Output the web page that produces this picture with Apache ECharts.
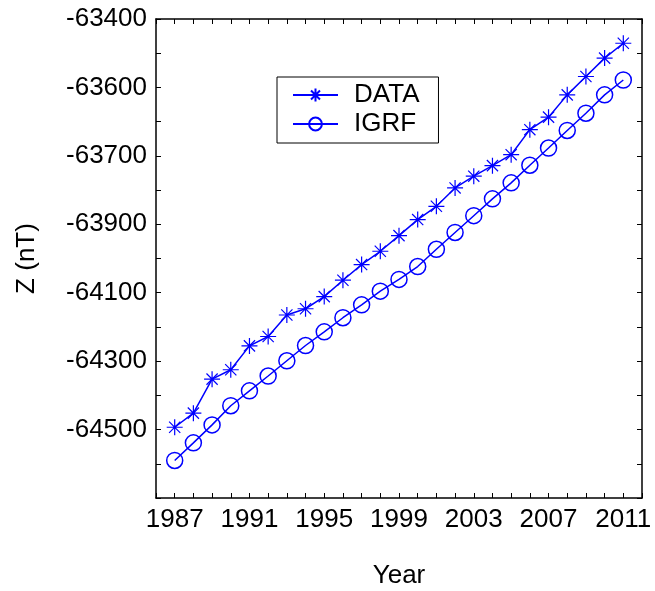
<!DOCTYPE html>
<html>
<head>
<meta charset="utf-8">
<script src="https://cdn.jsdelivr.net/npm/echarts@6/dist/echarts.min.js"></script>
<style>
  html, body { margin: 0; padding: 0; background: #fff; }
  #chart { width: 655px; height: 591px; }
</style>
</head>
<body>
<div id="chart"></div>
<script>
const years = [1987, 1988, 1989, 1990, 1991, 1992, 1993, 1994, 1995, 1996, 1997, 1998, 1999,
  2000, 2001, 2002, 2003, 2004, 2005, 2006, 2007, 2008, 2009, 2010, 2011];

const dataZ = [-64444, -64408, -64321, -64297, -64236, -64212, -64157, -64141, -64110, -64068,
  -64028, -63994, -63954, -63913, -63879, -63832, -63802, -63775, -63747, -63683,
  -63651, -63594, -63547, -63500, -63462];

const igrfZ = [-64529, -64484, -64438, -64389, -64351, -64313, -64274, -64235, -64200, -64164,
  -64131, -64096, -64066, -64033, -63989, -63946, -63903, -63860, -63819, -63774,
  -63730, -63685, -63641, -63594, -63556];

// tick labels as printed on the original figure
const yTickValues = [-63400, -63575, -63750, -63925, -64100, -64275, -64450];
const yTickLabels = ['-63400', '-63600', '-63700', '-63900', '-64100', '-64300', '-64500'];
const yMinorTicks = [-63400, -63487.5, -63575, -63662.5, -63750, -63837.5, -63925, -64012.5,
  -64100, -64187.5, -64275, -64362.5, -64450, -64537.5, -64625];
const xTickLabels = [1987, 1991, 1995, 1999, 2003, 2007, 2011];

const BLUE = '#0000ff';
const FONT = 'Liberation Sans';
const STAR = 'path://M0,-10L0,10M-10,0L10,0M-7,-7L7,7M-7,7L7,-7';

const chart = echarts.init(document.getElementById('chart'));

const axisLine = { show: true, onZero: false, lineStyle: { color: '#000', width: 1.5 } };
const tick = { show: true, inside: true, length: 5, lineStyle: { color: '#000', width: 1 } };

chart.setOption({
  animation: false,
  backgroundColor: '#fff',
  textStyle: { fontFamily: FONT },
  grid: { left: 156, right: 13, top: 19, bottom: 93, outerBoundsMode: 'none', containLabel: false },
  legend: {
    orient: 'vertical',
    left: 277,
    top: 77,
    padding: [5, 19, 6, 15],
    itemGap: 3,
    itemWidth: 45,
    itemHeight: 16,
    borderColor: '#000',
    borderWidth: 1,
    backgroundColor: '#fff',
    textStyle: { fontFamily: FONT, fontSize: 26, color: '#000', lineHeight: 26, padding: [0, 0, 0, 11] },
    data: ['DATA', 'IGRF']
  },
  xAxis: [{
    type: 'value',
    min: 1986,
    max: 2012,
    interval: 1,
    name: 'Year',
    nameLocation: 'middle',
    nameGap: 65,
    nameTextStyle: { fontFamily: FONT, fontSize: 26, color: '#000' },
    axisLine: axisLine,
    axisTick: tick,
    splitLine: { show: false },
    axisLabel: {
      customValues: xTickLabels,
      margin: 9,
      fontFamily: FONT,
      fontSize: 26,
      color: '#000',
      formatter: v => String(v)
    }
  }, {
    type: 'value',
    position: 'top',
    min: 1986,
    max: 2012,
    interval: 1,
    axisLine: axisLine,
    axisTick: tick,
    splitLine: { show: false },
    axisLabel: { show: false }
  }],
  yAxis: [{
    type: 'value',
    min: -64625,
    max: -63400,
    name: 'Z (nT)',
    nameLocation: 'middle',
    nameGap: 116,
    nameTextStyle: { fontFamily: FONT, fontSize: 26, color: '#000' },
    axisLine: axisLine,
    axisTick: Object.assign({ customValues: yMinorTicks }, tick),
    splitLine: { show: false },
    axisLabel: {
      customValues: yTickValues,
      margin: 9,
      fontFamily: FONT,
      fontSize: 26,
      color: '#000',
      formatter: function (v) {
        const i = yTickValues.findIndex(t => Math.abs(t - v) < 1);
        return i >= 0 ? yTickLabels[i] : '';
      }
    }
  }, {
    type: 'value',
    position: 'right',
    min: -64625,
    max: -63400,
    axisLine: axisLine,
    axisTick: Object.assign({ customValues: yMinorTicks }, tick),
    splitLine: { show: false },
    axisLabel: { show: false }
  }],
  series: [{
    name: 'DATA',
    type: 'line',
    data: years.map((y, i) => [y, dataZ[i]]),
    symbol: STAR,
    symbolSize: 16,
    lineStyle: { color: BLUE, width: 1.5 },
    itemStyle: { color: BLUE, borderColor: BLUE, borderWidth: 1.2 }
  }, {
    name: 'IGRF',
    type: 'line',
    data: years.map((y, i) => [y, igrfZ[i]]),
    symbol: 'circle',
    symbolSize: 16,
    lineStyle: { color: BLUE, width: 1.5 },
    itemStyle: { color: 'rgba(0,0,0,0)', borderColor: BLUE, borderWidth: 1.5 }
  }]
});
</script>
</body>
</html>
